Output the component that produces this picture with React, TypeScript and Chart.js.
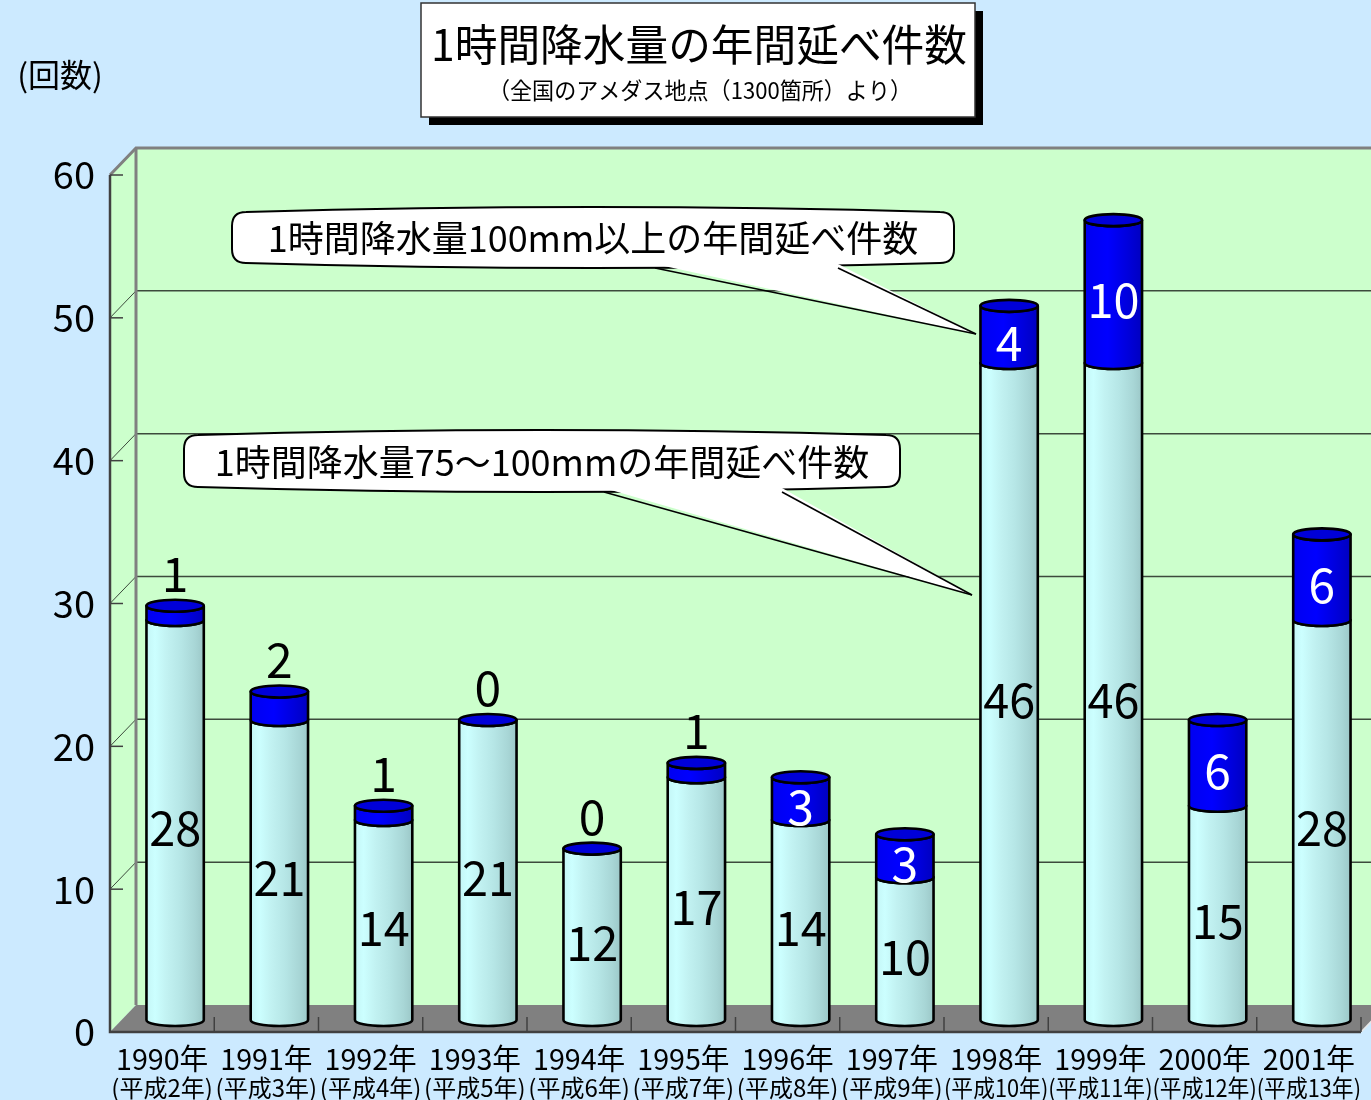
import React, { useEffect, useRef } from "react";
import { Chart, registerables } from "chart.js";

Chart.register(...registerables);

// Years on the category axis, with their Heisei era equivalents
const years = ["1990年", "1991年", "1992年", "1993年", "1994年", "1995年", "1996年", "1997年", "1998年", "1999年", "2000年", "2001年"];
const eraLabels = ["(平成2年)", "(平成3年)", "(平成4年)", "(平成5年)", "(平成6年)", "(平成7年)", "(平成8年)", "(平成9年)", "(平成10年)", "(平成11年)", "(平成12年)", "(平成13年)"];

// Yearly counts of hourly rainfall events
const count75to100 = [28, 21, 14, 21, 12, 17, 14, 10, 46, 46, 15, 28];
const count100plus = [1, 2, 1, 0, 0, 1, 3, 3, 4, 10, 6, 6];

// Value axis
const yMin = 0;
const yMax = 60;
const yStep = 10;

const titleText = "1時間降水量の年間延べ件数";
const subtitleText = "（全国のアメダス地点（1300箇所）より）";
const unitText = "(回数)";
const callout100 = "1時間降水量100mm以上の年間延べ件数";
const callout75 = "1時間降水量75～100mmの年間延べ件数";

const FONT = '"Noto Sans CJK JP", "Noto Sans", sans-serif';
const BG = "#cceaff";
const WALL = "#ccffcc";
const FLOOR = "#808080";
const DEPTH_X = 26;
const DEPTH_Y = 27;
const BAR_DX = 13;
const BAR_DY = -12;
const CAP_RY = 6;

function poly(ctx: CanvasRenderingContext2D, pts: number[][]) {
  ctx.beginPath();
  ctx.moveTo(pts[0][0], pts[0][1]);
  for (let i = 1; i < pts.length; i++) ctx.lineTo(pts[i][0], pts[i][1]);
  ctx.closePath();
}

function line(ctx: CanvasRenderingContext2D, x1: number, y1: number, x2: number, y2: number) {
  ctx.beginPath();
  ctx.moveTo(x1, y1);
  ctx.lineTo(x2, y2);
  ctx.stroke();
}

function cylinderBody(ctx: CanvasRenderingContext2D, cx: number, top: number, bottom: number, hw: number) {
  ctx.beginPath();
  ctx.moveTo(cx - hw, top);
  ctx.lineTo(cx - hw, bottom);
  ctx.ellipse(cx, bottom, hw, CAP_RY, 0, Math.PI, 0, true);
  ctx.lineTo(cx + hw, top);
  ctx.ellipse(cx, top, hw, CAP_RY, 0, 0, Math.PI, false);
  ctx.closePath();
}

function cyanGradient(ctx: CanvasRenderingContext2D, cx: number, hw: number) {
  const g = ctx.createLinearGradient(cx - hw, 0, cx + hw, 0);
  g.addColorStop(0, "#c4f6f6");
  g.addColorStop(0.15, "#ccffff");
  g.addColorStop(0.35, "#c2f2f2");
  g.addColorStop(0.6, "#b6e6e6");
  g.addColorStop(0.85, "#a8d6d6");
  g.addColorStop(1, "#9cc8c8");
  return g;
}

function blueGradient(ctx: CanvasRenderingContext2D, cx: number, hw: number) {
  const g = ctx.createLinearGradient(cx - hw, 0, cx + hw, 0);
  g.addColorStop(0, "#0000f0");
  g.addColorStop(0.4, "#0000ff");
  g.addColorStop(0.75, "#0000dc");
  g.addColorStop(1, "#0000c0");
  return g;
}

function callout(
  ctx: CanvasRenderingContext2D,
  x1: number, y1: number, x2: number, y2: number,
  baseL: number, baseR: number, tipX: number, tipY: number,
  text: string
) {
  const r = 14;
  const b = 5;
  const mid = (x1 + x2) / 2;
  ctx.save();
  ctx.fillStyle = "#ffffff";
  ctx.strokeStyle = "#000000";
  ctx.lineWidth = 2;
  ctx.beginPath();
  ctx.moveTo(x1 + r, y1 + b);
  ctx.quadraticCurveTo(mid, y1 - b, x2 - r, y1 + b);
  ctx.quadraticCurveTo(x2, y1 + b, x2, y1 + b + r);
  ctx.lineTo(x2, y2 - b - r);
  ctx.quadraticCurveTo(x2, y2 - b, x2 - r, y2 - b);
  ctx.quadraticCurveTo(mid, y2 + b, x1 + r, y2 - b);
  ctx.quadraticCurveTo(x1, y2 - b, x1, y2 - b - r);
  ctx.lineTo(x1, y1 + b + r);
  ctx.quadraticCurveTo(x1, y1 + b, x1 + r, y1 + b);
  ctx.closePath();
  ctx.fill();
  ctx.stroke();
  // tail merges into the box outline
  poly(ctx, [[baseL, y2 - 4], [tipX, tipY], [baseR, y2 - 4]]);
  ctx.fill();
  ctx.lineWidth = 1.6;
  line(ctx, baseL, y2, tipX, tipY);
  line(ctx, baseR, y2, tipX, tipY);
  ctx.fillStyle = "#000000";
  ctx.font = `36px ${FONT}`;
  ctx.textAlign = "center";
  ctx.textBaseline = "middle";
  ctx.fillText(text, mid, (y1 + y2) / 2 + 1);
  ctx.restore();
}

const chart3dPlugin = {
  id: "chart3d",
  beforeDraw(chart: any) {
    const { ctx, chartArea: a, scales, width, height } = chart;
    const y = scales.y;
    const x = scales.x;
    const bl = a.left + DEPTH_X;
    const bt = a.top - DEPTH_Y;
    const bb = a.bottom - DEPTH_Y;
    ctx.save();
    ctx.fillStyle = BG;
    ctx.fillRect(0, 0, width, height);

    // back and side walls
    ctx.fillStyle = WALL;
    ctx.fillRect(bl, bt, width - bl, bb - bt);
    poly(ctx, [[a.left, a.top], [bl, bt], [bl, bb], [a.left, a.bottom]]);
    ctx.fill();

    // floor
    ctx.fillStyle = FLOOR;
    poly(ctx, [[a.left, a.bottom], [bl, bb], [a.right + DEPTH_X, bb], [a.right, a.bottom]]);
    ctx.fill();

    // gridlines on the walls
    ctx.strokeStyle = "#3c4a3c";
    for (const t of y.ticks) {
      if (t.value === yMin) continue;
      const py = y.getPixelForValue(t.value);
      ctx.lineWidth = 1.5;
      line(ctx, bl, py - DEPTH_Y, width, py - DEPTH_Y);
      ctx.lineWidth = 1;
      line(ctx, a.left, py, bl, py - DEPTH_Y);
    }

    // wall frame
    ctx.strokeStyle = "#808080";
    ctx.lineWidth = 3;
    ctx.beginPath();
    ctx.moveTo(a.left, a.top);
    ctx.lineTo(bl, bt);
    ctx.lineTo(width, bt);
    ctx.stroke();
    line(ctx, bl, bt, bl, bb);

    // front axes
    ctx.strokeStyle = "#404040";
    ctx.lineWidth = 2.5;
    ctx.beginPath();
    ctx.moveTo(a.left, a.top);
    ctx.lineTo(a.left, a.bottom);
    ctx.lineTo(a.right, a.bottom);
    ctx.stroke();
    ctx.strokeStyle = "#e8e8e8";
    ctx.lineWidth = 1.5;
    line(ctx, a.right, a.bottom, a.right + DEPTH_X, bb);

    ctx.strokeStyle = "#404040";
    ctx.lineWidth = 1.5;
    for (const t of y.ticks) {
      const py = y.getPixelForValue(t.value);
      line(ctx, a.left, py, a.left + 13, py);
    }
    const n = years.length;
    const step = x.getPixelForValue(1) - x.getPixelForValue(0);
    for (let i = 0; i < n; i++) {
      const px = x.getPixelForValue(i) + step / 2;
      line(ctx, px, a.bottom, px, a.bottom - 15);
    }
    ctx.restore();
  },
  afterDatasetsDraw(chart: any) {
    const { ctx } = chart;
    const lower = chart.getDatasetMeta(0).data;
    const upper = chart.getDatasetMeta(1).data;
    ctx.save();
    ctx.translate(BAR_DX, BAR_DY);
    ctx.lineWidth = 2.6;
    ctx.lineJoin = "round";
    ctx.strokeStyle = "#000000";
    for (let i = 0; i < lower.length; i++) {
      const lo = lower[i].getProps(["x", "y", "base", "width"], true);
      const up = upper[i].getProps(["x", "y", "base", "width"], true);
      const hw = lo.width / 2;
      const cx = lo.x;

      cylinderBody(ctx, cx, lo.y, lo.base, hw);
      ctx.fillStyle = cyanGradient(ctx, cx, hw);
      ctx.fill();
      ctx.stroke();

      if (up.base - up.y > 0.5) {
        cylinderBody(ctx, cx, up.y, up.base, hw);
        ctx.fillStyle = blueGradient(ctx, cx, hw);
        ctx.fill();
        ctx.stroke();
      }
      ctx.beginPath();
      ctx.ellipse(cx, up.y, hw, CAP_RY, 0, 0, Math.PI * 2);
      ctx.fillStyle = "#0000d8";
      ctx.fill();
      ctx.stroke();

      // value labels
      ctx.textAlign = "center";
      ctx.textBaseline = "middle";
      ctx.font = `48px ${FONT}`;
      ctx.fillStyle = "#000000";
      ctx.fillText(String(count75to100[i]), cx, (lo.y + lo.base) / 2 + 8, 52);
      const v = count100plus[i];
      if (v >= 3) {
        ctx.fillStyle = "#ffffff";
        ctx.fillText(String(v), cx, (up.y + up.base) / 2 + 8, 52);
      } else {
        ctx.fillStyle = "#000000";
        ctx.fillText(String(v), cx, up.y - 32);
      }
    }
    ctx.restore();
  },
  afterDraw(chart: any) {
    const { ctx, scales } = chart;
    const x = scales.x;
    const step = x.getPixelForValue(1) - x.getPixelForValue(0);
    ctx.save();
    ctx.fillStyle = "#000000";
    ctx.textAlign = "center";
    ctx.textBaseline = "middle";
    for (let i = 0; i < years.length; i++) {
      const px = x.getPixelForValue(i);
      ctx.font = `29px ${FONT}`;
      ctx.fillText(years[i], px, 1059, step - 12);
      ctx.font = `24px ${FONT}`;
      ctx.fillText(eraLabels[i], px, 1088, step);
    }

    // unit label
    ctx.font = `32px ${FONT}`;
    ctx.fillText(unitText, 60, 75);

    // title box with drop shadow
    ctx.fillStyle = "#000000";
    ctx.fillRect(429, 11, 554, 114);
    ctx.fillStyle = "#ffffff";
    ctx.fillRect(421, 3, 554, 114);
    ctx.strokeStyle = "#333333";
    ctx.lineWidth = 1.5;
    ctx.strokeRect(421, 3, 554, 114);
    ctx.fillStyle = "#000000";
    ctx.font = `43px ${FONT}`;
    ctx.fillText(titleText, 699, 45, 536);
    ctx.font = `23px ${FONT}`;
    ctx.fillText(subtitleText, 700, 90, 424);

    callout(ctx, 232, 207, 954, 268, 655, 838, 976, 334, callout100);
    callout(ctx, 184, 430, 900, 492, 604, 782, 972, 595, callout75);
    ctx.restore();
  },
};

export default function App() {
  const canvasRef = useRef<HTMLCanvasElement | null>(null);

  useEffect(() => {
    document.body.style.margin = "0";
    const canvas = canvasRef.current;
    if (!canvas) return;
    const chart = new Chart(canvas, {
      type: "bar",
      data: {
        labels: years,
        datasets: [
          {
            label: "75～100mm",
            data: count75to100,
            backgroundColor: "rgba(0,0,0,0)",
            borderWidth: 0,
            stack: "s",
          },
          {
            label: "100mm以上",
            data: count100plus,
            backgroundColor: "rgba(0,0,0,0)",
            borderWidth: 0,
            stack: "s",
          },
        ],
      },
      options: {
        animation: false,
        responsive: false,
        devicePixelRatio: 1,
        layout: { padding: { left: 20, top: 175, right: 10, bottom: 68 } },
        categoryPercentage: 1,
        barPercentage: 0.55,
        scales: {
          x: {
            stacked: true,
            display: false,
            offset: true,
            grid: { display: false },
          },
          y: {
            stacked: true,
            min: yMin,
            max: yMax,
            afterFit: (s: any) => {
              s.width = 90;
            },
            ticks: {
              stepSize: yStep,
              padding: 7,
              color: "#000000",
              font: { family: FONT, size: 38 },
            },
            grid: { display: false },
            border: { display: false },
          },
        },
        plugins: {
          legend: { display: false },
          tooltip: { enabled: false },
        },
      } as any,
      plugins: [chart3dPlugin],
    });
    return () => chart.destroy();
  }, []);

  return <canvas ref={canvasRef} width={1371} height={1100} style={{ display: "block" }} />;
}
